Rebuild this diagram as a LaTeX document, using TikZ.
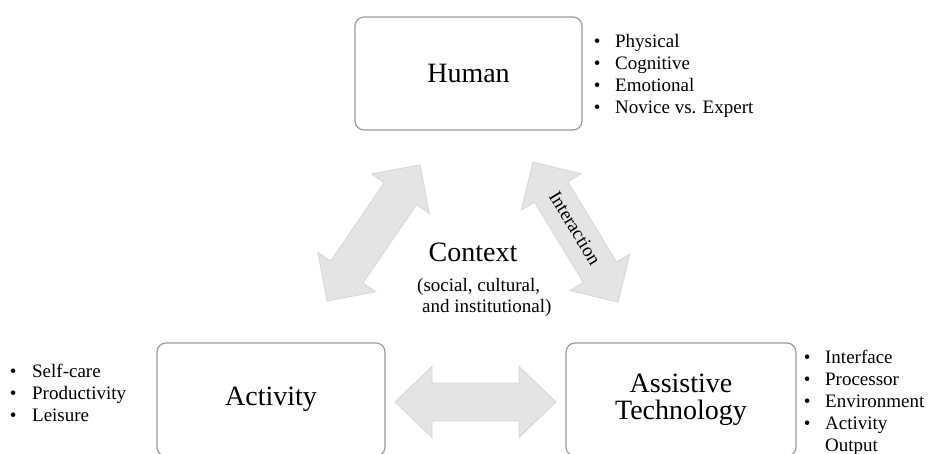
\documentclass[tikz,border=0pt]{standalone}
\usepackage{fontspec}
\setmainfont{Liberation Serif}
\definecolor{boxline}{HTML}{9C9C9C}
\definecolor{arrfill}{HTML}{E4E4E4}
\definecolor{arrline}{HTML}{D6D6D6}
\newcommand\dblblockarrow[4]{%
  \filldraw[arrowsty] (0,0) -- (#2,#3) -- (#2,#4) -- (#1-#2,#4) -- (#1-#2,#3) -- (#1,0)
    -- (#1-#2,-#3) -- (#1-#2,-#4) -- (#2,-#4) -- (#2,-#3) -- cycle;}
\begin{document}
\begin{tikzpicture}[x=1pt,y=-1pt,
  box/.style={draw=boxline, line width=1.2pt, rounded corners=9pt, fill=white,
    align=center, inner sep=0pt, font=\fontsize{28}{27}\selectfont},
  arrowsty/.style={fill=arrfill, draw=arrline, line width=0.8pt, line join=miter},
  bullist/.style={inner sep=0pt, anchor=west, font=\fontsize{19}{22}\selectfont},
  bigtext/.style={inner sep=0pt, font=\fontsize{28}{25}\selectfont},
  smalltext/.style={inner sep=0pt, font=\fontsize{19}{21}\selectfont}]
\clip (0,0) rectangle (928,453);
\fill[white] (0,0) rectangle (928,453);

% boxes
\node[box, minimum width=227pt, minimum height=113pt] (human) at (468.5,73.5) {Human};
\node[box, minimum width=228pt, minimum height=113pt] (activity) at (271,399.5) {Activity};
\node[box, minimum width=230pt, minimum height=113pt] (at) at (681,399.5) {Assistive\\Technology};

% block arrows
\coordinate (la) at (327,301);
\coordinate (ra) at (533,162);
\coordinate (ba) at (395,402);
\begin{scope}[shift={(la)}, rotate=55.63]
  \dblblockarrow{165}{35}{35}{19.5}
\end{scope}
\begin{scope}[shift={(ra)}, rotate=-58.74]
  \dblblockarrow{164}{35}{35}{19.5}
\end{scope}
\begin{scope}[shift={(ba)}]
  \dblblockarrow{161}{37}{35.5}{19}
\end{scope}

\node[smalltext, rotate=-58.74] (interaction) at (575,228) {Interaction};

% context
\node[bigtext] (context) at (473,252) {Context};
\node[smalltext, anchor=west, align=left] (contextsub) at (417,297.5)
  {(social, cultural,\\\hspace{5pt}and institutional)};

% bullet lists
\node[bullist] (hlist) at (593.7,76.5)
  {\begin{tabular}{@{}l@{\hspace{14.6pt}}l@{}}
   \textbullet & Physical\\
   \textbullet & Cognitive\\
   \textbullet & Emotional\\
   \textbullet & Novice vs. Expert
   \end{tabular}};
\node[bullist] (alist) at (9.7,395.5)
  {\begin{tabular}{@{}l@{\hspace{15.6pt}}l@{}}
   \textbullet & Self-care\\
   \textbullet & Productivity\\
   \textbullet & Leisure
   \end{tabular}};
\node[bullist] (tlist) at (803.7,403)
  {\begin{tabular}{@{}l@{\hspace{14.6pt}}l@{}}
   \textbullet & Interface\\
   \textbullet & Processor\\
   \textbullet & Environment\\
   \textbullet & Activity\\
               & Output
   \end{tabular}};
\end{tikzpicture}
\end{document}
